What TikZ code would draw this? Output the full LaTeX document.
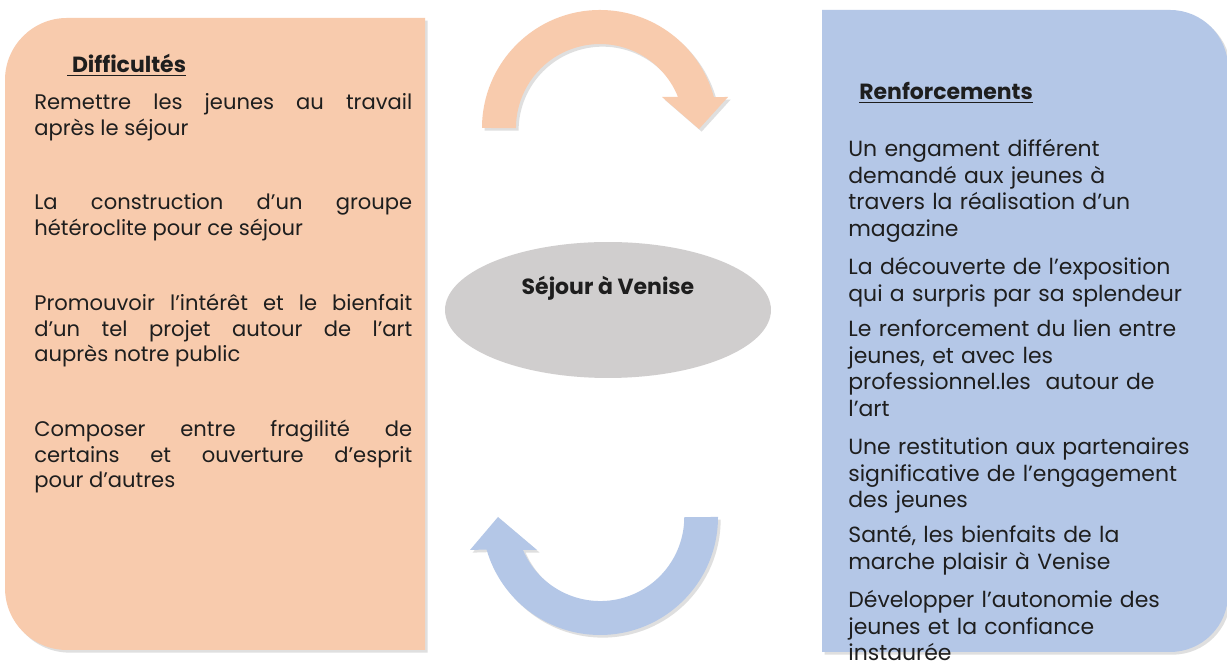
\documentclass[tikz,border=0pt]{standalone}
\usepackage{fontspec}
\setmainfont{Poppins}
\usetikzlibrary{shapes.geometric,shadows}
\definecolor{peach}{HTML}{F8CBAD}
\definecolor{paleblue}{HTML}{B4C7E7}
\definecolor{palegray}{HTML}{D0CECE}
\definecolor{ink}{HTML}{1E1E1E}
\tolerance=10000
\hyphenpenalty=10000
\begin{document}
\begin{tikzpicture}[x=0.02cm, y=0.02cm,
  soft shadow/.style={drop shadow={shadow xshift=1.5pt, shadow yshift=-1.5pt, opacity=.25}},
  heading/.style={anchor=base west, inner sep=0pt, text=ink, font=\fontsize{12.5}{15}\selectfont\bfseries},
  leftpara/.style={anchor=base west, inner sep=0pt, text=ink, text width=7.56cm, align=justify,
    font=\fontsize{12}{14.4}\selectfont},
  rightpara/.style={anchor=base west, inner sep=0pt, text=ink, text width=8cm, align=left,
    font=\fontsize{12.5}{15}\selectfont}]
\useasboundingbox[fill=white] (0,0) rectangle (1227,661);
\fill[peach, soft shadow] (425,643) -- (67,643) arc[start angle=90, end angle=180, radius=62]
  -- (5,73) arc[start angle=180, end angle=270, radius=62] -- (425,11) -- cycle;
\fill[paleblue, soft shadow] (822,651) -- (1170,651) arc[start angle=90, end angle=0, radius=58]
  -- (1228,67) arc[start angle=0, end angle=-90, radius=58] -- (822,9) -- cycle;
\fill[peach, soft shadow] (482,533) arc[start angle=180, end angle=15.2, radius=118]
  -- (728,564) -- (699,532) -- (662,564) -- (678,564) arc[start angle=21.7, end angle=180, radius=84] -- cycle;
\fill[paleblue, soft shadow] (718,144) arc[start angle=0, end angle=-164, radius=118]
  -- (470,111) -- (498,144) -- (537,111) -- (523,111) arc[start angle=-156.9, end angle=0, radius=84] -- cycle;
\node (venise) [ellipse, fill=palegray, inner sep=0pt, minimum width=6.52cm, minimum height=2.72cm] at (608,351) {};
\node (sejour) [anchor=base, inner sep=0pt, text=ink, font=\fontsize{12.5}{15}\selectfont\bfseries] at (608,366) {Séjour à Venise};
\node (diff) [heading] at (67,588) {\underline{~Difficultés}};
\node (renf) [heading] at (859,561) {\underline{Renforcements}};
\node (d1) [leftpara] at (34,551) {Remettre les jeunes au travail\linebreak après le séjour};
\node (d2) [leftpara] at (34,451) {La construction d’un groupe\linebreak hétéroclite pour ce séjour};
\node (d3) [leftpara] at (34,350) {Promouvoir l'intérêt et le bienfait\linebreak d’un tel projet autour de l’art\linebreak auprès notre public};
\node (d4) [leftpara] at (34,224) {Composer entre fragilité de\linebreak certains et ouverture d’esprit\linebreak pour d’autres};
\node (r1) [rightpara] at (848,504) {Un engament différent\\demandé aux jeunes à\\travers la réalisation d’un\\magazine};
\node (r2) [rightpara] at (848,386) {La découverte de l’exposition\\qui a surpris par sa splendeur};
\node (r3) [rightpara] at (848,324) {Le renforcement du lien entre\\jeunes, et avec les\\professionnel.les \ autour de\\l’art};
\node (r4) [rightpara] at (848,206) {Une restitution aux partenaires\\significative de l’engagement\\des jeunes};
\node (r5) [rightpara] at (848,118) {Santé, les bienfaits de la\\marche plaisir à Venise};
\node (r6) [rightpara] at (848,53) {Développer l’autonomie des\\jeunes et la confiance\\instaurée};
\end{tikzpicture}
\end{document}
